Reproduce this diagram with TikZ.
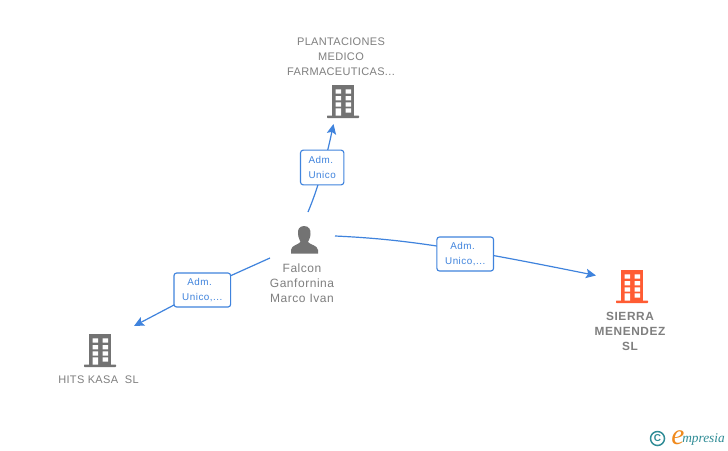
\documentclass[tikz,border=0pt]{standalone}
\usepackage{fontspec}
\setmainfont{Liberation Sans}
\newfontfamily\logofont{Liberation Serif}
\usetikzlibrary{arrows.meta}
\definecolor{edgeblue}{HTML}{3F83DD}
\definecolor{txtgray}{HTML}{7F7F7F}
\definecolor{icongray}{HTML}{737373}
\definecolor{iconorange}{HTML}{FF5C33}
\definecolor{logoteal}{HTML}{2F8C96}
\definecolor{logoorange}{HTML}{F08A1D}
\tikzset{
  x=0.75pt,y=-0.75pt,
  link/.style={draw=edgeblue,line width=0.9pt},
  linkarrow/.style={link,-{Stealth[length=7.5pt,width=7pt,inset=1.5pt]}},
  rolebox/.style={draw=edgeblue,line width=0.85pt,rounded corners=2pt,fill=white,inner sep=0pt,align=center,
    font=\fontsize{7.4pt}{11pt}\selectfont\addfontfeature{LetterSpace=5},text=edgeblue},
  entity/.style={inner sep=0pt,align=center,text=txtgray,font=\fontsize{8.25pt}{11.25pt}\selectfont\addfontfeature{LetterSpace=3}},
  entitymixed/.style={entity,font=\fontsize{9pt}{11.25pt}\selectfont\addfontfeature{LetterSpace=4.5}},
  entitybold/.style={entity,font=\fontsize{8.9pt}{11.25pt}\selectfont\bfseries\addfontfeature{LetterSpace=5}},
}
% building icon: #1 centre x, #2 top y, #3 colour
\newcommand{\buildingicon}[3]{%
  \begin{scope}[shift={(#1,#2)}]
    \fill[#3] (-11,0) rectangle (11,31);
    \fill[#3,rounded corners=0.5pt] (-16,30.5) rectangle (16,33);
    \fill[white]
      (-7.5,4.3) rectangle (-2,8.7) (2.5,4.3) rectangle (8,8.7)
      (-7.5,11) rectangle (-2,15.3) (2.5,11) rectangle (8,15.3)
      (-7.5,17.3) rectangle (-2,21.7) (2.5,17.3) rectangle (8,21.7)
      (-7.5,23.3) rectangle (-2,30.5) (2.5,23.3) rectangle (8,27.7);
  \end{scope}}
\begin{document}
\begin{tikzpicture}
\useasboundingbox (0,0) rectangle (728,450);
\fill[white] (0,0) rectangle (728,450);

% icons
\buildingicon{343}{85}{icongray}
\buildingicon{632}{270}{iconorange}
\buildingicon{100}{334}{icongray}
% person icon
\fill[icongray] (304,226) .. controls (299,226) and (297.5,230) .. (298,234)
  .. controls (298.3,238) and (300,240) .. (300.5,242)
  .. controls (298,245) and (291.5,245) .. (291,250) -- (291,253.5) -- (318,253.5) -- (318,250)
  .. controls (317.5,245) and (310,245) .. (308,242)
  .. controls (308.5,240) and (310.5,238) .. (310.5,234)
  .. controls (311,230) and (309,226) .. (304,226) -- cycle;

% entity labels
\node[entity] (plant) at (341,56.5) {PLANTACIONES\\MEDICO\\FARMACEUTICAS...};
\node[entitymixed] (person) at (302,283) {Falcon\\Ganfornina\\Marco Ivan};
\node[entitybold] (sierra) at (630,331) {SIERRA\\MENENDEZ\\SL};
\node[entity] (hits) at (98.5,380) {HITS KASA\ \ SL};

% connector ends
\coordinate (personUp) at (308,212);
\coordinate (plantIn) at (333.5,124);
\coordinate (personRight) at (335,236);
\coordinate (sierraIn) at (596,275.5);
\coordinate (personLeft) at (270,258);
\coordinate (hitsIn) at (134,326);

% connectors
\draw[linkarrow] (personUp) .. controls (319,186) and (327,155) .. (plantIn);
\draw[linkarrow] (personRight) .. controls (400,239) and (450,246) .. (sierraIn);
\draw[linkarrow] (personLeft) -- (230,276) -- (174,305) -- (hitsIn);

% role boxes
\node[rolebox,minimum width=32.5pt,minimum height=26pt] (roleA) at (322.2,167.5) {Adm.\kern2pt\\Unico};
\node[rolebox,minimum width=42.5pt,minimum height=25.5pt] (roleB) at (465.2,254) {Adm.\kern4pt\\Unico,...};
\node[rolebox,minimum width=42.5pt,minimum height=25.5pt] (roleC) at (202.3,290) {Adm.\kern4pt\\Unico,...};

% logo
\node[circle,draw=logoteal,line width=1.1pt,minimum size=10.5pt,inner sep=0pt,text=logoteal,font=\fontsize{7.5pt}{7.5pt}\selectfont\bfseries] (copy) at (657.5,438.5) {C};
\node[inner sep=0pt,anchor=base west,text=logoorange,font=\logofont\itshape\fontsize{22pt}{22pt}\selectfont] (logoe) at (671,444.5) {e};
\node[inner sep=0pt,anchor=base west,text=logoteal,font=\logofont\itshape\fontsize{10pt}{11pt}\selectfont] (logot) at (682,442) {mpresia};
\end{tikzpicture}
\end{document}
